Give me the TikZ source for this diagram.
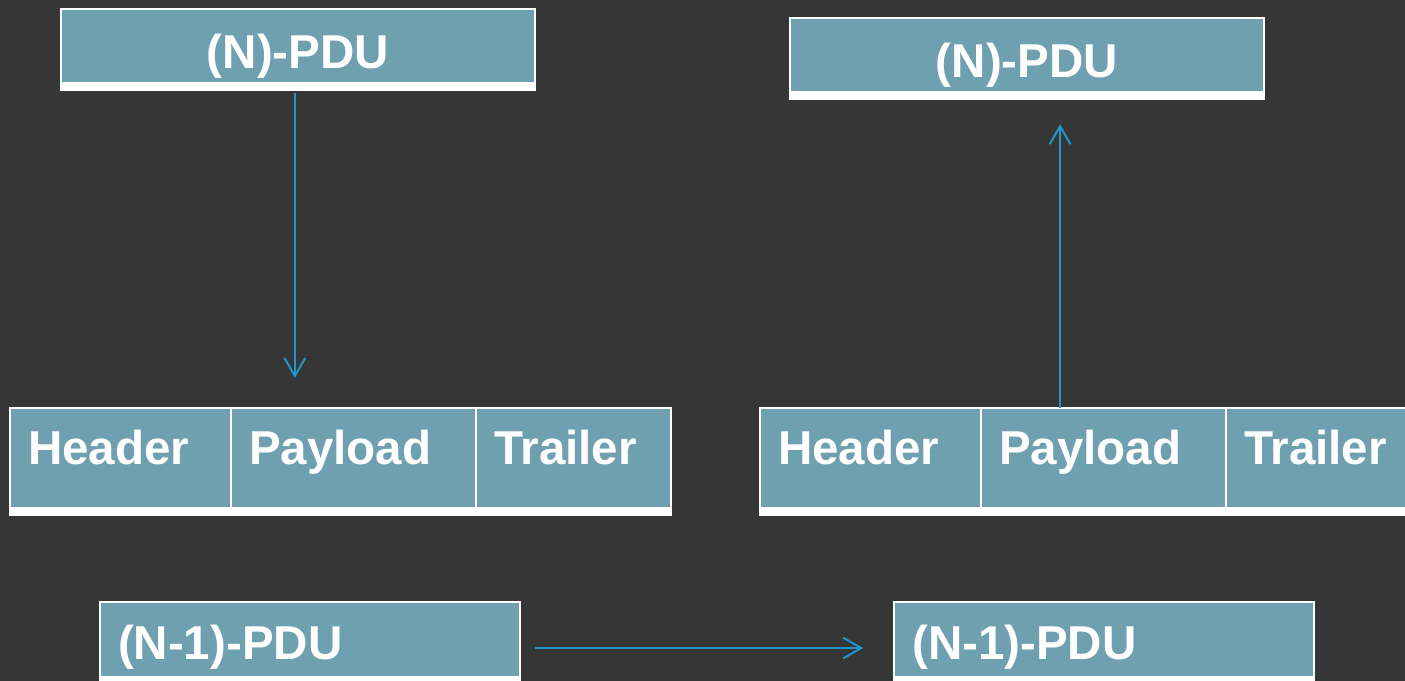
\documentclass[tikz,border=0pt]{standalone}
\usepackage{fontspec}
\setmainfont{Liberation Sans}
\usetikzlibrary{positioning,arrows.meta}
\definecolor{slidebg}{HTML}{363636}
\definecolor{pdufill}{HTML}{6FA0B0}
\definecolor{flowblue}{HTML}{1F96C8}
\tikzset{
  pdu/.style={draw=white,line width=0.05cm,fill=pdufill,outer sep=0pt,
    text=white,font=\fontsize{33.8}{40}\selectfont\bfseries,
    path picture={\fill[white] (path picture bounding box.south west)
      rectangle ([yshift=0.2cm]path picture bounding box.south east);}},
  toppdu/.style={pdu,anchor=north west,minimum width=11.85cm,minimum height=2.03cm,
    text height=0.94cm,text depth=0pt},
  lowpdu/.style={pdu,anchor=north west,minimum width=10.5cm,minimum height=2.05cm,
    inner xsep=0.45cm,text width=9.6cm,align=left,text height=0.84cm,text depth=0pt},
  field/.style={pdu,anchor=north west,minimum width=#1,minimum height=2.68cm,
    inner xsep=0.45cm,text width=#1-0.9cm,align=left,text height=0.85cm,text depth=0.7cm},
  flow/.style={draw=flowblue,line width=0.05cm,-{Straight Barb[length=0.45cm,width=0.52cm]}}
}
\begin{document}
\begin{tikzpicture}[x=0.025cm,y=-0.025cm]
  \useasboundingbox (0,0) rectangle (1405,681);
  \clip (0,0) rectangle (1405,681);
  \fill[slidebg] (0,0) rectangle (1405,681);
  % sending side
  \node[toppdu] (ntopL) at (61,9) {(N)-PDU};
  \node[field=5.525cm] (hdrL) at (10,408) {Header};
  \node[field=6.125cm,right=0pt of hdrL] (payL) {Payload};
  \node[field=4.875cm,right=0pt of payL] (trlL) {Trailer};
  % receiving side
  \node[toppdu] (ntopR) at (790,18) {(N)-PDU};
  \node[field=5.525cm] (hdrR) at (760,408) {Header};
  \node[field=6.125cm,right=0pt of hdrR] (payR) {Payload};
  \node[field=4.875cm,right=0pt of payR] (trlR) {Trailer};
  % lower layer
  \node[lowpdu] (botL) at (100,602) {(N-1)-PDU};
  \node[lowpdu,right=9.35cm of botL] (botR) {(N-1)-PDU};
  % arrows
  \coordinate (dnL) at ([xshift=-0.08cm]ntopL.south);
  \draw[flow,shorten <=0.075cm,shorten >=0.75cm] (dnL) -- (dnL |- hdrL.north);
  \coordinate (upR) at ([xshift=1.975cm]payR.north west);
  \draw[flow,shorten >=0.625cm] (upR) -- (upR |- ntopR.south);
  \draw[flow,shorten <=0.375cm,shorten >=0.775cm]
    ([yshift=-0.125cm]botL.east) -- ([yshift=-0.125cm]botR.west);
\end{tikzpicture}
\end{document}
